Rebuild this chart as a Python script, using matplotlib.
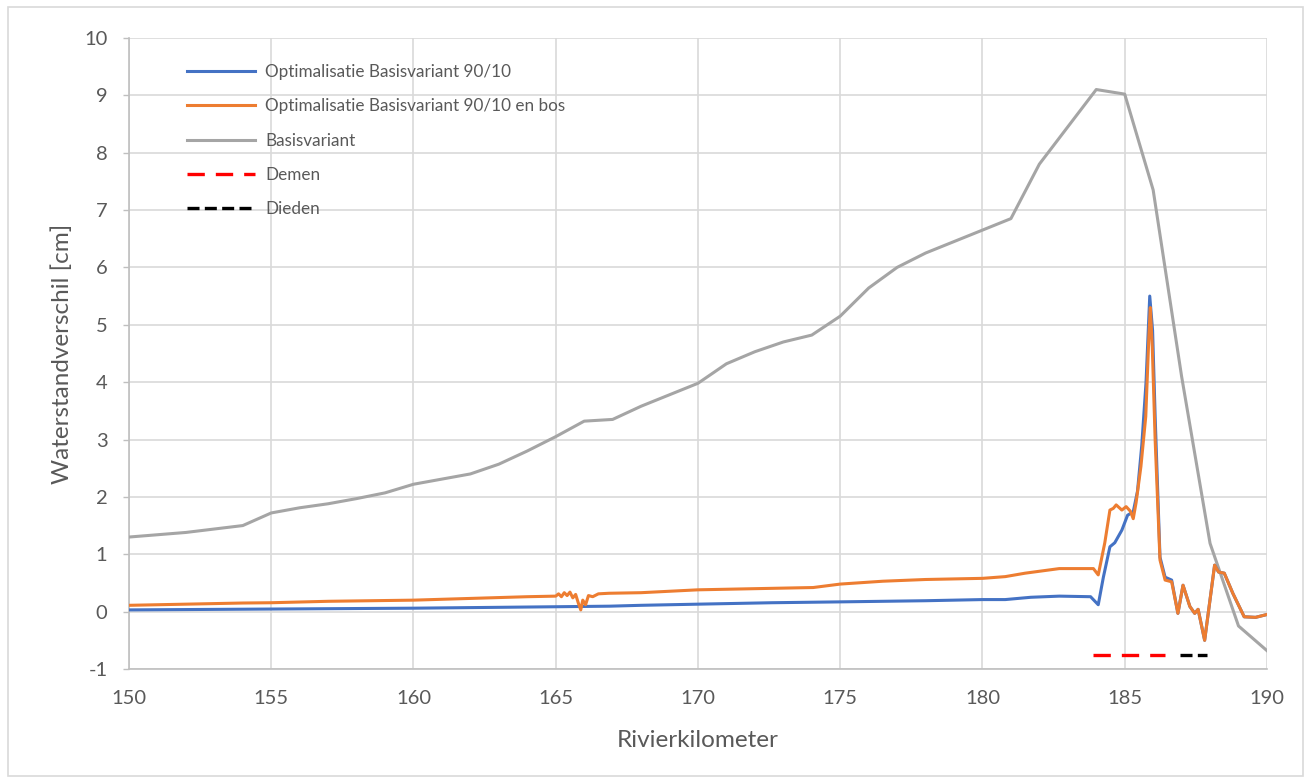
import matplotlib
matplotlib.use("Agg")
from matplotlib import pyplot as plt
from matplotlib.patches import Rectangle

plt.rcParams["font.family"] = ["Lato", "DejaVu Sans"]
plt.rcParams["axes.unicode_minus"] = False

# Basisvariant, one point per km
km_basis = list(range(150, 191))
basis = [1.30, 1.34, 1.38, 1.44, 1.50, 1.72, 1.81, 1.88, 1.97, 2.07,
         2.22, 2.31, 2.40, 2.57, 2.80, 3.05, 3.32, 3.35, 3.58, 3.78,
         3.98, 4.32, 4.53, 4.70, 4.82, 5.15, 5.64, 6.00, 6.25, 6.45,
         6.65, 6.85, 7.80, 8.45, 9.10, 9.02, 7.35, 4.10, 1.19, -0.25,
         -0.68]

# Optimalisatie Basisvariant 90/10 en bos
km_bos = [150, 152, 154, 155, 157, 160, 162, 164, 165.0, 165.1, 165.2,
          165.3, 165.4, 165.5, 165.6, 165.7, 165.8, 165.88, 165.95, 166.05,
          166.15, 166.3, 166.5, 166.87, 168, 170, 172, 174.05, 175, 176.5,
          178, 180, 180.8, 181.5, 182.7, 183.9, 184.07, 184.3, 184.48, 184.6,
          184.7, 184.9, 185.05, 185.2, 185.3, 185.4, 185.57, 185.74, 185.85,
          185.9, 185.97, 186.07, 186.24, 186.42, 186.65, 186.87, 187.05,
          187.29, 187.46, 187.58, 187.81, 188.16, 188.3, 188.5, 188.8, 189.2,
          189.6, 190]
bos = [0.11, 0.13, 0.15, 0.155, 0.18, 0.20, 0.23, 0.26, 0.27, 0.31, 0.26,
       0.33, 0.28, 0.34, 0.24, 0.30, 0.14, 0.03, 0.20, 0.12,
       0.28, 0.26, 0.31, 0.32, 0.33, 0.38, 0.40, 0.42, 0.48, 0.53,
       0.56, 0.58, 0.61, 0.67, 0.75, 0.75, 0.64, 1.20, 1.77, 1.80,
       1.86, 1.77, 1.83, 1.75, 1.62, 1.90, 2.53, 3.40, 4.80,
       5.30, 4.60, 2.99, 0.90, 0.55, 0.52, -0.03, 0.46,
       0.09, -0.03, 0.04, -0.50, 0.81, 0.69, 0.67, 0.32, -0.09,
       -0.10, -0.05]

# Optimalisatie Basisvariant 90/10
km_opt = [150, 155, 160, 165, 166.9, 168, 170, 172.6, 175, 178, 180, 180.8,
          181.7, 182.7, 183.8, 184.07, 184.25, 184.48, 184.65, 184.9, 185.1,
          185.3, 185.45, 185.6, 185.75, 185.88, 185.98, 186.07, 186.24,
          186.42, 186.65, 186.87, 187.05, 187.29, 187.46, 187.58, 187.81,
          188.16, 188.3, 188.5, 188.8, 189.2, 189.6, 190]
opt = [0.03, 0.045, 0.06, 0.085, 0.095, 0.11, 0.13, 0.155, 0.17, 0.19, 0.21,
       0.21, 0.25, 0.27, 0.26, 0.12, 0.60, 1.13, 1.20, 1.42, 1.68,
       1.74, 2.10, 2.90, 4.00, 5.50, 4.90, 3.40, 0.95,
       0.60, 0.55, -0.03, 0.46, 0.09, -0.03, 0.04, -0.50,
       0.81, 0.69, 0.67, 0.32, -0.09, -0.10, -0.05]

# Demen / Dieden sections
demen_km = [183.9, 186.4]
dieden_km = [186.95, 187.9]
section_level = -0.75

BLUE = "#4472C4"
ORANGE = "#ED7D31"
GREY = "#A5A5A5"
TEXT = "#595959"

fig = plt.figure(figsize=(13.11, 7.83), dpi=100)
ax = fig.add_axes([0.0984, 0.1456, 0.868, 0.806])

ax.plot(km_opt, opt, color=BLUE, lw=2.2, label="Optimalisatie Basisvariant 90/10", zorder=4)
ax.plot(km_bos, bos, color=ORANGE, lw=2.2, label="Optimalisatie Basisvariant 90/10 en bos", zorder=5)
ax.plot(km_basis, basis, color=GREY, lw=2.2, label="Basisvariant", zorder=3)
ax.plot(demen_km, [section_level] * 2, color="red", lw=2.4,
        dashes=(5.2, 3.3), label="Demen", zorder=6)
ax.plot(dieden_km, [section_level] * 2, color="black", lw=2.4,
        dashes=(3.6, 1.6), label="Dieden", zorder=6)

ax.set_xlim(150, 190)
ax.set_ylim(-1, 10)
ax.set_xticks(range(150, 191, 5))
ax.set_yticks(range(-1, 11))
ax.grid(True, color="#d9d9d9", lw=1.2)
ax.set_axisbelow(True)
for side in ["top", "right"]:
    ax.spines[side].set_visible(False)
for side in ["left", "bottom"]:
    ax.spines[side].set_color("#bfbfbf")
    ax.spines[side].set_linewidth(1.2)
ax.tick_params(axis="y", colors="#bfbfbf", labelcolor=TEXT, labelsize=14.5,
               length=4.5, width=1, pad=11)
ax.tick_params(axis="x", length=0, labelcolor=TEXT, labelsize=14.5, pad=15)

ax.set_xlabel("Rivierkilometer", color=TEXT, fontsize=17.5, labelpad=17)
ax.set_ylabel("Waterstandverschil [cm]", color=TEXT, fontsize=17.5, labelpad=8)

leg = ax.legend(loc="upper left", bbox_to_anchor=(0.0374, 0.983), frameon=False,
                fontsize=12.3, handlelength=4.0, labelspacing=1.07,
                handletextpad=0.58)
for t in leg.get_texts():
    t.set_color(TEXT)

fig.patches.append(Rectangle((0.006, 0.009), 0.988, 0.982, transform=fig.transFigure,
                             fill=False, edgecolor="#d9d9d9", lw=1.2))

fig.savefig("out.png", dpi=100)
